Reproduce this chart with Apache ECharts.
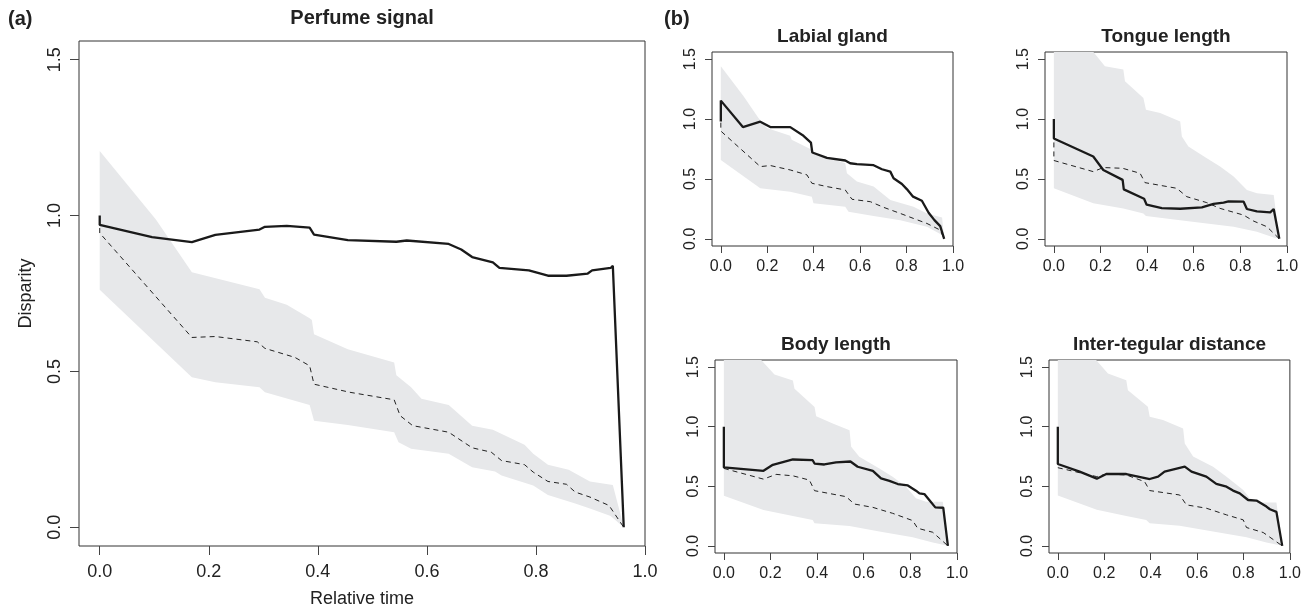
<!DOCTYPE html>
<html>
<head>
<meta charset="utf-8">
<script src="https://cdn.jsdelivr.net/npm/echarts@6/dist/echarts.min.js"></script>
<style>
  html, body { margin: 0; padding: 0; background: #fff; }
  #chart { width: 1304px; height: 613px; }
</style>
</head>
<body>
<div id="chart"></div>
<script>
// tick labels
const xTicks = [0, 0.2, 0.4, 0.6, 0.8, 1.0]
const yTicks = [0, 0.5, 1.0, 1.5]

// (a) Perfume signal
const perfumeObs = [[0, 1.0], [0, 0.97], [0.096, 0.931], [0.169, 0.915], [0.212, 0.938], [0.293, 0.955], [0.303, 0.964], [0.343, 0.967], [0.385, 0.961], [0.393, 0.939], [0.455, 0.921], [0.544, 0.916], [0.563, 0.92], [0.64, 0.909], [0.663, 0.891], [0.683, 0.867], [0.721, 0.85], [0.733, 0.832], [0.787, 0.824], [0.822, 0.807], [0.856, 0.807], [0.895, 0.814], [0.903, 0.824], [0.937, 0.832], [0.941, 0.839], [0.961, 0]]
const perfumeNull = [[0, 0.96], [0, 0.944], [0.169, 0.609], [0.212, 0.612], [0.289, 0.595], [0.303, 0.574], [0.358, 0.545], [0.385, 0.518], [0.393, 0.459], [0.459, 0.433], [0.54, 0.409], [0.551, 0.358], [0.574, 0.326], [0.64, 0.305], [0.683, 0.255], [0.718, 0.241], [0.737, 0.214], [0.779, 0.201], [0.795, 0.177], [0.822, 0.147], [0.856, 0.138], [0.872, 0.113], [0.899, 0.097], [0.934, 0.07], [0.961, 0]]
const perfumeUpper = [[0, 1.207], [0.103, 0.987], [0.169, 0.818], [0.293, 0.764], [0.303, 0.736], [0.343, 0.714], [0.385, 0.671], [0.389, 0.665], [0.393, 0.619], [0.455, 0.571], [0.54, 0.529], [0.544, 0.488], [0.571, 0.449], [0.59, 0.412], [0.64, 0.392], [0.683, 0.326], [0.721, 0.313], [0.779, 0.265], [0.795, 0.236], [0.822, 0.201], [0.86, 0.185], [0.899, 0.147], [0.941, 0.136], [0.957, 0.028], [0.961, 0]]
const perfumeLower = [[0, 0.762], [0.169, 0.481], [0.212, 0.465], [0.293, 0.449], [0.303, 0.433], [0.385, 0.392], [0.393, 0.342], [0.455, 0.328], [0.54, 0.305], [0.548, 0.273], [0.571, 0.252], [0.64, 0.236], [0.683, 0.193], [0.725, 0.179], [0.737, 0.166], [0.795, 0.134], [0.822, 0.104], [0.872, 0.076], [0.899, 0.06], [0.937, 0.036], [0.961, 0]]

// (b) Labial gland
const labialObs = [[0, 0.98], [0, 1.154], [0.095, 0.933], [0.17, 0.978], [0.213, 0.933], [0.299, 0.933], [0.356, 0.86], [0.388, 0.804], [0.394, 0.721], [0.457, 0.676], [0.536, 0.654], [0.557, 0.631], [0.586, 0.623], [0.658, 0.615], [0.694, 0.581], [0.73, 0.561], [0.744, 0.506], [0.78, 0.458], [0.802, 0.413], [0.828, 0.352], [0.866, 0.318], [0.895, 0.218], [0.92, 0.156], [0.945, 0.106], [0.962, 0]]
const labialNull = [[0, 0.97], [0, 0.9], [0.17, 0.603], [0.213, 0.612], [0.299, 0.575], [0.371, 0.534], [0.392, 0.464], [0.457, 0.436], [0.536, 0.408], [0.565, 0.33], [0.644, 0.31], [0.701, 0.263], [0.773, 0.212], [0.83, 0.17], [0.888, 0.128], [0.945, 0.073], [0.962, 0]]
const labialUpper = [[0, 1.441], [0.098, 1.19], [0.162, 1.008], [0.198, 0.925], [0.299, 0.86], [0.305, 0.827], [0.392, 0.743], [0.399, 0.715], [0.536, 0.631], [0.543, 0.547], [0.586, 0.478], [0.658, 0.436], [0.73, 0.324], [0.83, 0.268], [0.888, 0.212], [0.953, 0.179], [0.962, 0]]
const labialLower = [[0, 0.659], [0.17, 0.422], [0.299, 0.394], [0.392, 0.352], [0.399, 0.296], [0.536, 0.268], [0.55, 0.226], [0.658, 0.19], [0.773, 0.156], [0.888, 0.1], [0.953, 0.031], [0.962, 0]]

// (b) Tongue length
const tongueObs = [[0, 1.0], [0, 0.838], [0.169, 0.687], [0.212, 0.575], [0.295, 0.492], [0.3, 0.413], [0.387, 0.335], [0.398, 0.285], [0.463, 0.257], [0.542, 0.251], [0.635, 0.263], [0.685, 0.291], [0.728, 0.302], [0.749, 0.313], [0.814, 0.31], [0.828, 0.249], [0.871, 0.229], [0.928, 0.221], [0.943, 0.249], [0.967, 0]]
const tongueNull = [[0, 0.88], [0, 0.654], [0.169, 0.561], [0.212, 0.595], [0.295, 0.589], [0.37, 0.547], [0.391, 0.469], [0.527, 0.422], [0.57, 0.352], [0.656, 0.302], [0.713, 0.254], [0.814, 0.198], [0.857, 0.148], [0.914, 0.101], [0.967, 0]]
const tongueUpper = [[0, 1.8], [0.169, 1.561], [0.219, 1.441], [0.298, 1.413], [0.305, 1.316], [0.384, 1.176], [0.395, 1.078], [0.456, 1.05], [0.542, 0.98], [0.549, 0.855], [0.577, 0.771], [0.656, 0.673], [0.713, 0.603], [0.771, 0.52], [0.828, 0.408], [0.871, 0.38], [0.943, 0.366], [0.967, 0]]
const tongueLower = [[0, 0.422], [0.169, 0.296], [0.298, 0.254], [0.384, 0.212], [0.395, 0.19], [0.542, 0.156], [0.656, 0.128], [0.771, 0.1], [0.871, 0.059], [0.943, 0.011], [0.967, 0]]

// (b) Body length
const bodyObs = [[0, 1.0], [0, 0.658], [0.17, 0.63], [0.21, 0.68], [0.296, 0.725], [0.303, 0.739], [0.381, 0.719], [0.389, 0.691], [0.431, 0.683], [0.481, 0.7], [0.543, 0.708], [0.574, 0.664], [0.639, 0.63], [0.674, 0.566], [0.71, 0.546], [0.746, 0.519], [0.789, 0.507], [0.824, 0.463], [0.839, 0.44], [0.86, 0.435], [0.881, 0.385], [0.907, 0.323], [0.941, 0.32], [0.961, 0]]
const bodyNull = [[0, 0.65], [0.17, 0.56], [0.224, 0.6], [0.296, 0.588], [0.367, 0.552], [0.389, 0.463], [0.524, 0.413], [0.56, 0.351], [0.639, 0.323], [0.724, 0.273], [0.81, 0.212], [0.831, 0.148], [0.896, 0.114], [0.961, 0]]
const bodyUpper = [[0, 1.8], [0.16, 1.56], [0.217, 1.439], [0.296, 1.388], [0.303, 1.319], [0.389, 1.165], [0.396, 1.087], [0.467, 1.026], [0.539, 0.97], [0.546, 0.831], [0.581, 0.747], [0.667, 0.65], [0.724, 0.58], [0.781, 0.496], [0.824, 0.399], [0.867, 0.371], [0.939, 0.371], [0.961, 0]]
const bodyLower = [[0, 0.421], [0.17, 0.301], [0.296, 0.251], [0.381, 0.217], [0.389, 0.19], [0.539, 0.167], [0.667, 0.12], [0.81, 0.072], [0.896, 0.028], [0.961, 0]]

// (b) Inter-tegular distance
const interObs = [[0, 1.0], [0, 0.687], [0.094, 0.623], [0.168, 0.564], [0.209, 0.603], [0.295, 0.603], [0.396, 0.561], [0.432, 0.581], [0.46, 0.623], [0.547, 0.665], [0.576, 0.623], [0.64, 0.581], [0.683, 0.52], [0.727, 0.497], [0.755, 0.464], [0.784, 0.441], [0.82, 0.385], [0.856, 0.38], [0.899, 0.33], [0.914, 0.307], [0.942, 0.285], [0.967, 0]]
const interNull = [[0, 0.656], [0.168, 0.581], [0.209, 0.603], [0.295, 0.595], [0.374, 0.539], [0.396, 0.464], [0.525, 0.427], [0.554, 0.344], [0.64, 0.316], [0.727, 0.26], [0.799, 0.218], [0.813, 0.154], [0.885, 0.112], [0.967, 0]]
const interUpper = [[0, 1.8], [0.165, 1.559], [0.216, 1.447], [0.295, 1.391], [0.302, 1.307], [0.388, 1.168], [0.396, 1.084], [0.453, 1.056], [0.54, 0.986], [0.547, 0.86], [0.583, 0.749], [0.669, 0.665], [0.727, 0.581], [0.799, 0.469], [0.827, 0.399], [0.871, 0.363], [0.942, 0.363], [0.967, 0]]
const interLower = [[0, 0.422], [0.168, 0.302], [0.295, 0.251], [0.381, 0.218], [0.396, 0.19], [0.525, 0.168], [0.669, 0.12], [0.813, 0.073], [0.899, 0.028], [0.967, 0]]

const FONT = '"Liberation Sans", Arial, Helvetica, sans-serif'
const TXT = '#222'
const BAND = '#e7e8ea'

// panel boxes, in pixels
const panels = [
  { title: 'Perfume signal', box: [79, 41, 566, 506], obs: perfumeObs, nul: perfumeNull, up: perfumeUpper, lo: perfumeLower, big: true },
  { title: 'Labial gland', box: [712, 52, 241, 194], obs: labialObs, nul: labialNull, up: labialUpper, lo: labialLower },
  { title: 'Tongue length', box: [1045, 52, 242, 194], obs: tongueObs, nul: tongueNull, up: tongueUpper, lo: tongueLower },
  { title: 'Body length', box: [715, 360, 242, 193], obs: bodyObs, nul: bodyNull, up: bodyUpper, lo: bodyLower },
  { title: 'Inter-tegular distance', box: [1049, 360, 241, 193], obs: interObs, nul: interNull, up: interUpper, lo: interLower }
]

const grid = []
const xAxis = []
const yAxis = []
const series = []
const graphic = []

panels.forEach((p, i) => {
  const [l, t, w, h] = p.box
  const fs = p.big ? 18 : 16
  grid.push({ left: l, top: t, width: w, height: h, show: true, borderColor: '#333', borderWidth: 1, backgroundColor: 'transparent' })
  xAxis.push({
    type: 'value', gridIndex: i, min: -0.038, max: 1.0, position: 'bottom',
    splitLine: { show: false }, axisLine: { show: false, onZero: false },
    axisTick: { show: true, length: p.big ? 9 : 7, lineStyle: { color: '#444' }, customValues: xTicks },
    axisLabel: { customValues: xTicks, formatter: v => v.toFixed(1), fontSize: fs, fontFamily: FONT, color: TXT, margin: p.big ? 17 : 13 },
    name: p.big ? 'Relative time' : '', nameLocation: 'middle', nameGap: 44,
    nameTextStyle: { fontSize: 18, fontFamily: FONT, color: TXT }
  })
  yAxis.push({
    type: 'value', gridIndex: i, min: -0.06, max: 1.56, position: 'left',
    splitLine: { show: false }, axisLine: { show: false, onZero: false },
    axisTick: { show: true, length: p.big ? 9 : 7, lineStyle: { color: '#444' }, customValues: yTicks },
    axisLabel: { customValues: yTicks, formatter: v => v.toFixed(1), rotate: 90, fontSize: fs, fontFamily: FONT, color: TXT, margin: p.big ? 15 : 13 },
    name: p.big ? 'Disparity' : '', nameLocation: 'middle', nameGap: 44,
    nameTextStyle: { fontSize: 18, fontFamily: FONT, color: TXT }
  })
  const up = p.up
  const lo = p.lo
  series.push({
    type: 'custom', xAxisIndex: i, yAxisIndex: i, clip: true, silent: true,
    data: [[0, 0]],
    renderItem: (params, api) => {
      const pts = up.concat(lo.slice().reverse()).map(d => api.coord(d))
      return { type: 'polygon', shape: { points: pts }, style: { fill: BAND } }
    },
    z: 1
  })
  series.push({
    type: 'line', xAxisIndex: i, yAxisIndex: i, data: p.nul, showSymbol: false, silent: true,
    lineStyle: { color: '#222', width: 1, type: [5, 4] }, z: 2
  })
  series.push({
    type: 'line', xAxisIndex: i, yAxisIndex: i, data: p.obs, showSymbol: false, silent: true,
    lineStyle: { color: '#1a1a1a', width: 2.3 }, z: 3
  })
  graphic.push({
    type: 'text', x: l + w / 2, y: p.big ? 18 : t - 15,
    style: { text: p.title, font: 'bold ' + (p.big ? 20 : 19) + 'px ' + FONT, fill: TXT, align: 'center', verticalAlign: 'middle' }
  })
})

graphic.push({ type: 'text', x: 8, y: 19, style: { text: '(a)', font: 'bold 20px ' + FONT, fill: TXT, align: 'left', verticalAlign: 'middle' } })
graphic.push({ type: 'text', x: 664, y: 19, style: { text: '(b)', font: 'bold 20px ' + FONT, fill: TXT, align: 'left', verticalAlign: 'middle' } })

const chart = echarts.init(document.getElementById('chart'))
chart.setOption({
  animation: false,
  backgroundColor: '#fff',
  grid,
  xAxis,
  yAxis,
  series,
  graphic
})
</script>
</body>
</html>
